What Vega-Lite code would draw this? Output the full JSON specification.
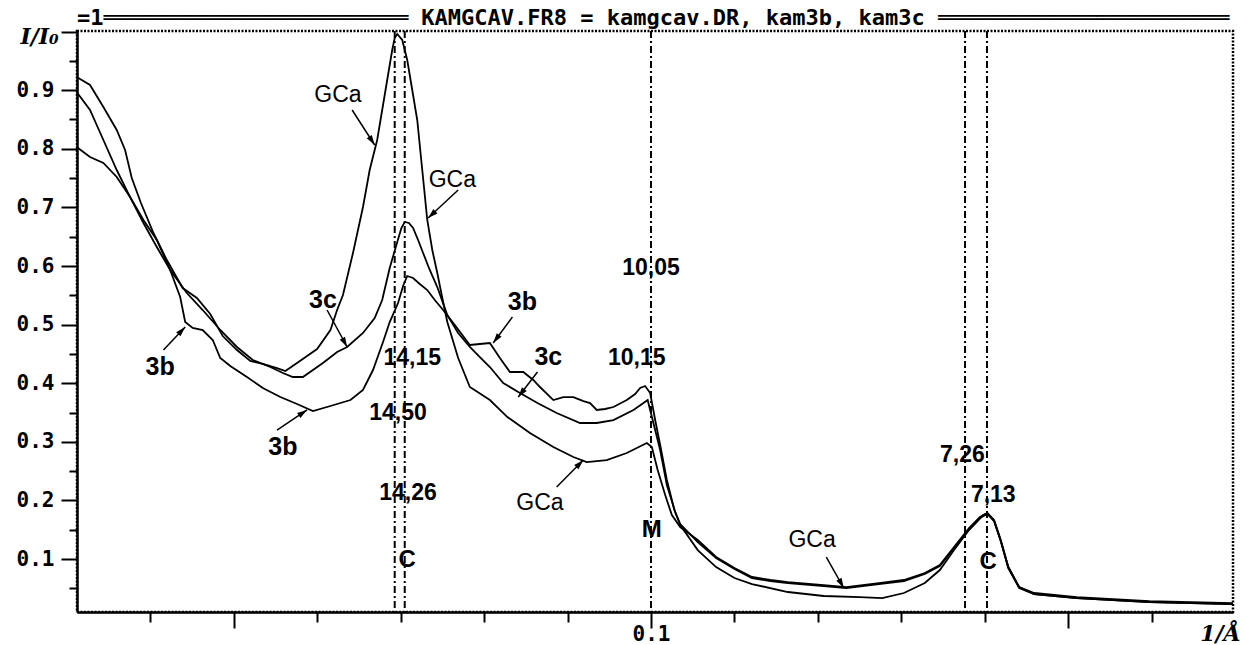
{
  "$schema": "https://vega.github.io/schema/vega-lite/v6.json",
  "width": 1156,
  "height": 581,
  "autosize": "none",
  "padding": {"left": 77, "top": 31, "right": 13, "bottom": 33},
  "background": "white",
  "title": {
    "text": "=1═══════════════════════ KAMGCAV.FR8 = kamgcav.DR, kam3b, kam3c ══════════════════════",
    "anchor": "start",
    "frame": "group",
    "font": "DejaVu Sans Mono",
    "fontSize": 22,
    "fontWeight": "bold",
    "baseline": "bottom",
    "offset": 6,
    "dy": 37,
    "color": "black"
  },
  "resolve": {"scale": {"y": "shared"}, "axis": {"y": "independent"}},
  "config": {
    "view": {"stroke": "black", "strokeWidth": 2.5, "strokeDash": [2, 1.5]},
    "axis": {
      "domainColor": "black",
      "domainWidth": 2.5,
      "tickColor": "black",
      "tickWidth": 2,
      "labelColor": "black",
      "titleColor": "black",
      "grid": false,
      "labelOverlap": false,
      "labelFlush": false,
      "labelFont": "DejaVu Sans Mono",
      "labelFontWeight": "bold",
      "labelFontSize": 21,
      "titleFont": "DejaVu Serif",
      "titleFontStyle": "italic",
      "titleFontWeight": "bold",
      "titleFontSize": 22
    }
  },
  "datasets": {
    "refs": [
      {"d": "14,50", "x": 0.0693},
      {"d": "14,15", "x": 0.0705},
      {"d": "10,0", "x": 0.1},
      {"d": "7,26", "x": 0.13762},
      {"d": "7,13", "x": 0.14025}
    ],
    "curves": [
      {"s":"GCa","x":0.0312,"y":0.9225},{"s":"GCa","x":0.0328,"y":0.9089},{"s":"GCa","x":0.0344,"y":0.8713},{"s":"GCa","x":0.0360,"y":0.8321},{"s":"GCa","x":0.0370,"y":0.7979},{"s":"GCa","x":0.0378,"y":0.7502},{"s":"GCa","x":0.0389,"y":0.7075},{"s":"GCa","x":0.0404,"y":0.6563},{"s":"GCa","x":0.0420,"y":0.6102},{"s":"GCa","x":0.0439,"y":0.5624},{"s":"GCa","x":0.0456,"y":0.5454},{"s":"GCa","x":0.0472,"y":0.5181},{"s":"GCa","x":0.0487,"y":0.4805},{"s":"GCa","x":0.0504,"y":0.4566},{"s":"GCa","x":0.0520,"y":0.4379},{"s":"GCa","x":0.0535,"y":0.4328},{"s":"GCa","x":0.0552,"y":0.4259},{"s":"GCa","x":0.0562,"y":0.4208},{"s":"GCa","x":0.0576,"y":0.4345},{"s":"GCa","x":0.0600,"y":0.4584},{"s":"GCa","x":0.0616,"y":0.4908},{"s":"GCa","x":0.0624,"y":0.5249},{"s":"GCa","x":0.0631,"y":0.5505},{"s":"GCa","x":0.0643,"y":0.6222},{"s":"GCa","x":0.0655,"y":0.7007},{"s":"GCa","x":0.0663,"y":0.7638},{"s":"GCa","x":0.0672,"y":0.8150},{"s":"GCa","x":0.0679,"y":0.8747},{"s":"GCa","x":0.0685,"y":0.9259},{"s":"GCa","x":0.0690,"y":0.9686},{"s":"GCa","x":0.0693,"y":0.9891},{"s":"GCa","x":0.0696,"y":0.9959},{"s":"GCa","x":0.0702,"y":0.9857},{"s":"GCa","x":0.0708,"y":0.9515},{"s":"GCa","x":0.0714,"y":0.9003},{"s":"GCa","x":0.0720,"y":0.8491},{"s":"GCa","x":0.0726,"y":0.7638},{"s":"GCa","x":0.0732,"y":0.6785},{"s":"GCa","x":0.0738,"y":0.6273},{"s":"GCa","x":0.0744,"y":0.5880},{"s":"GCa","x":0.0750,"y":0.5454},{"s":"GCa","x":0.0756,"y":0.5044},{"s":"GCa","x":0.0769,"y":0.4430},{"s":"GCa","x":0.0783,"y":0.3935},{"s":"GCa","x":0.0807,"y":0.3713},{"s":"GCa","x":0.0828,"y":0.3423},{"s":"GCa","x":0.0855,"y":0.3150},{"s":"GCa","x":0.0883,"y":0.2911},{"s":"GCa","x":0.0907,"y":0.2741},{"s":"GCa","x":0.0923,"y":0.2655},{"s":"GCa","x":0.0947,"y":0.2689},{"s":"GCa","x":0.0971,"y":0.2809},{"s":"GCa","x":0.0995,"y":0.2979},{"s":"GCa","x":0.1001,"y":0.2911},{"s":"GCa","x":0.1008,"y":0.2519},{"s":"GCa","x":0.1017,"y":0.2092},{"s":"GCa","x":0.1025,"y":0.1751},{"s":"GCa","x":0.1035,"y":0.1546},{"s":"GCa","x":0.1056,"y":0.1324},{"s":"GCa","x":0.1078,"y":0.1034},{"s":"GCa","x":0.1100,"y":0.0846},{"s":"GCa","x":0.1121,"y":0.0693},{"s":"GCa","x":0.1143,"y":0.0642},{"s":"GCa","x":0.1164,"y":0.0607},{"s":"GCa","x":0.1207,"y":0.0556},{"s":"GCa","x":0.1234,"y":0.0522},{"s":"GCa","x":0.1273,"y":0.0590},{"s":"GCa","x":0.1303,"y":0.0642},{"s":"GCa","x":0.1328,"y":0.0761},{"s":"GCa","x":0.1346,"y":0.0898},{"s":"GCa","x":0.1363,"y":0.1205},{"s":"GCa","x":0.1381,"y":0.1529},{"s":"GCa","x":0.1394,"y":0.1717},{"s":"GCa","x":0.1403,"y":0.1785},{"s":"GCa","x":0.1411,"y":0.1665},{"s":"GCa","x":0.1419,"y":0.1324},{"s":"GCa","x":0.1428,"y":0.0863},{"s":"GCa","x":0.1441,"y":0.0522},{"s":"GCa","x":0.1459,"y":0.0420},{"s":"GCa","x":0.1510,"y":0.0351},{"s":"GCa","x":0.1597,"y":0.0283},{"s":"GCa","x":0.1697,"y":0.0249},
      {"s":"3b","x":0.0312,"y":0.8031},{"s":"3b","x":0.0328,"y":0.7860},{"s":"3b","x":0.0344,"y":0.7758},{"s":"3b","x":0.0360,"y":0.7519},{"s":"3b","x":0.0376,"y":0.7177},{"s":"3b","x":0.0392,"y":0.6785},{"s":"3b","x":0.0408,"y":0.6444},{"s":"3b","x":0.0424,"y":0.5932},{"s":"3b","x":0.0436,"y":0.5471},{"s":"3b","x":0.0442,"y":0.5044},{"s":"3b","x":0.0451,"y":0.4942},{"s":"3b","x":0.0463,"y":0.4908},{"s":"3b","x":0.0475,"y":0.4737},{"s":"3b","x":0.0484,"y":0.4430},{"s":"3b","x":0.0496,"y":0.4293},{"s":"3b","x":0.0516,"y":0.4106},{"s":"3b","x":0.0535,"y":0.3918},{"s":"3b","x":0.0556,"y":0.3764},{"s":"3b","x":0.0576,"y":0.3645},{"s":"3b","x":0.0595,"y":0.3525},{"s":"3b","x":0.0616,"y":0.3611},{"s":"3b","x":0.0640,"y":0.3713},{"s":"3b","x":0.0655,"y":0.3884},{"s":"3b","x":0.0667,"y":0.4225},{"s":"3b","x":0.0679,"y":0.4703},{"s":"3b","x":0.0687,"y":0.5044},{"s":"3b","x":0.0697,"y":0.5368},{"s":"3b","x":0.0703,"y":0.5659},{"s":"3b","x":0.0708,"y":0.5829},{"s":"3b","x":0.0715,"y":0.5795},{"s":"3b","x":0.0723,"y":0.5693},{"s":"3b","x":0.0732,"y":0.5590},{"s":"3b","x":0.0741,"y":0.5420},{"s":"3b","x":0.0751,"y":0.5249},{"s":"3b","x":0.0765,"y":0.4993},{"s":"3b","x":0.0783,"y":0.4652},{"s":"3b","x":0.0795,"y":0.4669},{"s":"3b","x":0.0807,"y":0.4686},{"s":"3b","x":0.0819,"y":0.4430},{"s":"3b","x":0.0831,"y":0.4191},{"s":"3b","x":0.0847,"y":0.4191},{"s":"3b","x":0.0859,"y":0.4055},{"s":"3b","x":0.0867,"y":0.3935},{"s":"3b","x":0.0883,"y":0.3713},{"s":"3b","x":0.0895,"y":0.3764},{"s":"3b","x":0.0907,"y":0.3764},{"s":"3b","x":0.0919,"y":0.3696},{"s":"3b","x":0.0927,"y":0.3662},{"s":"3b","x":0.0935,"y":0.3543},{"s":"3b","x":0.0945,"y":0.3560},{"s":"3b","x":0.0955,"y":0.3594},{"s":"3b","x":0.0971,"y":0.3713},{"s":"3b","x":0.0981,"y":0.3816},{"s":"3b","x":0.0987,"y":0.3918},{"s":"3b","x":0.0993,"y":0.3952},{"s":"3b","x":0.0999,"y":0.3833},{"s":"3b","x":0.1005,"y":0.3372},{"s":"3b","x":0.1011,"y":0.2945},{"s":"3b","x":0.1019,"y":0.2348},{"s":"3b","x":0.1028,"y":0.1836},{"s":"3b","x":0.1035,"y":0.1580},{"s":"3b","x":0.1056,"y":0.1153},{"s":"3b","x":0.1078,"y":0.0863},{"s":"3b","x":0.1100,"y":0.0676},{"s":"3b","x":0.1121,"y":0.0573},{"s":"3b","x":0.1164,"y":0.0437},{"s":"3b","x":0.1207,"y":0.0369},{"s":"3b","x":0.1250,"y":0.0351},{"s":"3b","x":0.1277,"y":0.0334},{"s":"3b","x":0.1303,"y":0.0420},{"s":"3b","x":0.1328,"y":0.0590},{"s":"3b","x":0.1346,"y":0.0812},{"s":"3b","x":0.1363,"y":0.1153},{"s":"3b","x":0.1381,"y":0.1495},{"s":"3b","x":0.1398,"y":0.1751},{"s":"3b","x":0.1403,"y":0.1785},{"s":"3b","x":0.1411,"y":0.1648},{"s":"3b","x":0.1419,"y":0.1307},{"s":"3b","x":0.1428,"y":0.0846},{"s":"3b","x":0.1441,"y":0.0505},{"s":"3b","x":0.1459,"y":0.0403},{"s":"3b","x":0.1510,"y":0.0334},{"s":"3b","x":0.1597,"y":0.0266},{"s":"3b","x":0.1697,"y":0.0232},
      {"s":"3c","x":0.0312,"y":0.8969},{"s":"3c","x":0.0328,"y":0.8662},{"s":"3c","x":0.0344,"y":0.8150},{"s":"3c","x":0.0360,"y":0.7638},{"s":"3c","x":0.0376,"y":0.7177},{"s":"3c","x":0.0392,"y":0.6734},{"s":"3c","x":0.0408,"y":0.6324},{"s":"3c","x":0.0424,"y":0.5932},{"s":"3c","x":0.0444,"y":0.5539},{"s":"3c","x":0.0463,"y":0.5249},{"s":"3c","x":0.0484,"y":0.4908},{"s":"3c","x":0.0504,"y":0.4618},{"s":"3c","x":0.0523,"y":0.4396},{"s":"3c","x":0.0544,"y":0.4276},{"s":"3c","x":0.0559,"y":0.4174},{"s":"3c","x":0.0571,"y":0.4106},{"s":"3c","x":0.0583,"y":0.4106},{"s":"3c","x":0.0607,"y":0.4345},{"s":"3c","x":0.0624,"y":0.4532},{"s":"3c","x":0.0636,"y":0.4618},{"s":"3c","x":0.0655,"y":0.4857},{"s":"3c","x":0.0669,"y":0.5113},{"s":"3c","x":0.0678,"y":0.5420},{"s":"3c","x":0.0687,"y":0.5966},{"s":"3c","x":0.0695,"y":0.6358},{"s":"3c","x":0.0701,"y":0.6648},{"s":"3c","x":0.0705,"y":0.6751},{"s":"3c","x":0.0710,"y":0.6734},{"s":"3c","x":0.0715,"y":0.6648},{"s":"3c","x":0.0721,"y":0.6444},{"s":"3c","x":0.0727,"y":0.6222},{"s":"3c","x":0.0735,"y":0.5932},{"s":"3c","x":0.0744,"y":0.5641},{"s":"3c","x":0.0756,"y":0.5164},{"s":"3c","x":0.0769,"y":0.4857},{"s":"3c","x":0.0783,"y":0.4618},{"s":"3c","x":0.0795,"y":0.4447},{"s":"3c","x":0.0807,"y":0.4276},{"s":"3c","x":0.0823,"y":0.4003},{"s":"3c","x":0.0843,"y":0.3833},{"s":"3c","x":0.0864,"y":0.3662},{"s":"3c","x":0.0887,"y":0.3491},{"s":"3c","x":0.0915,"y":0.3321},{"s":"3c","x":0.0935,"y":0.3321},{"s":"3c","x":0.0955,"y":0.3372},{"s":"3c","x":0.0979,"y":0.3543},{"s":"3c","x":0.0991,"y":0.3662},{"s":"3c","x":0.0996,"y":0.3713},{"s":"3c","x":0.1002,"y":0.3372},{"s":"3c","x":0.1011,"y":0.2860},{"s":"3c","x":0.1019,"y":0.2263},{"s":"3c","x":0.1029,"y":0.1802},{"s":"3c","x":0.1035,"y":0.1597},{"s":"3c","x":0.1056,"y":0.1290},{"s":"3c","x":0.1078,"y":0.1017},{"s":"3c","x":0.1100,"y":0.0829},{"s":"3c","x":0.1121,"y":0.0676},{"s":"3c","x":0.1143,"y":0.0624},{"s":"3c","x":0.1164,"y":0.0590},{"s":"3c","x":0.1207,"y":0.0539},{"s":"3c","x":0.1234,"y":0.0505},{"s":"3c","x":0.1273,"y":0.0573},{"s":"3c","x":0.1303,"y":0.0624},{"s":"3c","x":0.1328,"y":0.0744},{"s":"3c","x":0.1346,"y":0.0880},{"s":"3c","x":0.1363,"y":0.1188},{"s":"3c","x":0.1381,"y":0.1512},{"s":"3c","x":0.1394,"y":0.1700},{"s":"3c","x":0.1403,"y":0.1768},{"s":"3c","x":0.1411,"y":0.1648},{"s":"3c","x":0.1419,"y":0.1307},{"s":"3c","x":0.1428,"y":0.0863},{"s":"3c","x":0.1441,"y":0.0522},{"s":"3c","x":0.1459,"y":0.0403},{"s":"3c","x":0.1510,"y":0.0334},{"s":"3c","x":0.1597,"y":0.0266},{"s":"3c","x":0.1697,"y":0.0232}
    ],
    "arrows": [
      {"s":"GCa","xt":0.0642,"yt":0.8662,"x":0.0669,"y":0.8065},
      {"s":"GCa","xt":0.0769,"yt":0.7297,"x":0.0733,"y":0.6819},
      {"s":"3c","xt":0.0612,"yt":0.5249,"x":0.0636,"y":0.4618},
      {"s":"3b","xt":0.0416,"yt":0.4566,"x":0.0442,"y":0.4959},
      {"s":"3b","xt":0.0552,"yt":0.3201,"x":0.0588,"y":0.3543},
      {"s":"3b","xt":0.0834,"yt":0.5130,"x":0.0811,"y":0.4686},
      {"s":"3c","xt":0.0864,"yt":0.4191,"x":0.0841,"y":0.3764},
      {"s":"GCa","xt":0.0887,"yt":0.2229,"x":0.0919,"y":0.2689},
      {"s":"GCa","xt":0.1210,"yt":0.1034,"x":0.1231,"y":0.0505}
    ],
    "labels": [
      {"kind":"sample","t":"GCa","x":0.0625,"y":0.8918},
      {"kind":"sample","t":"GCa","x":0.0762,"y":0.7468},
      {"kind":"sample","t":"GCa","x":0.0867,"y":0.1956},
      {"kind":"sample","t":"GCa","x":0.1193,"y":0.1324},
      {"kind":"sample","t":"3c","x":0.0607,"y":0.5420},
      {"kind":"sample","t":"3b","x":0.0412,"y":0.4276},
      {"kind":"sample","t":"3b","x":0.0559,"y":0.2911},
      {"kind":"sample","t":"3b","x":0.0846,"y":0.5386},
      {"kind":"sample","t":"3c","x":0.0877,"y":0.4447},
      {"kind":"peak","t":"14,15","x":0.0714,"y":0.4430},
      {"kind":"peak","t":"14,50","x":0.0697,"y":0.3491},
      {"kind":"peak","t":"14,26","x":0.0709,"y":0.2126},
      {"kind":"phase","t":"C","x":0.0708,"y":0.0983},
      {"kind":"peak","t":"10,05","x":0.1,"y":0.5966},
      {"kind":"peak","t":"10,15","x":0.0983,"y":0.4430},
      {"kind":"phase","t":"M","x":0.1001,"y":0.1495},
      {"kind":"peak","t":"7,26","x":0.1373,"y":0.2775},
      {"kind":"peak","t":"7,13","x":0.1410,"y":0.2092},
      {"kind":"phase","t":"C","x":0.1404,"y":0.0949}
    ]
  },
  "layer": [
    {
      "data": {"name": "curves"},
      "mark": {"type": "line", "color": "black", "strokeWidth": 1.8, "interpolate": "linear"},
      "encoding": {
        "x": {
          "field": "x", "type": "quantitative",
          "scale": {"domain": [0.03124, 0.16972], "nice": false, "zero": false},
          "axis": {
            "values": [0.04, 0.05, 0.06, 0.07, 0.08, 0.09, 0.1, 0.11, 0.12, 0.13, 0.14, 0.15, 0.16],
            "labelExpr": "abs(datum.value - 0.1) < 0.001 ? '0.1' : ''",
            "tickSize": {"condition": {"test": "abs(datum.value*20 - round(datum.value*20)) < 0.01", "value": 16}, "value": 10},
            "labelPadding": -5,
            "title": "1/Å",
            "titleX": 1143,
            "titleY": 28,
            "titleAlign": "center",
            "titleBaseline": "alphabetic"
          }
        },
        "y": {
          "field": "y", "type": "quantitative",
          "scale": {"domain": [0.0096, 1.001], "nice": false, "zero": false},
          "axis": {
            "orient": "left",
            "values": [0.1, 0.2, 0.3, 0.4, 0.5, 0.6, 0.7, 0.8, 0.9, 1.0],
            "format": ".1f",
            "labelExpr": "datum.value > 0.95 ? '' : datum.label",
            "tickSize": 16,
            "labelPadding": 7,
            "title": "I/I₀",
            "titleAngle": 0,
            "titleX": -38,
            "titleY": 12,
            "titleAlign": "center",
            "titleBaseline": "alphabetic"
          }
        },
        "detail": {"field": "s", "type": "nominal"}
      }
    },
    {
      "data": {"name": "refs"},
      "mark": {"type": "rule", "color": "black", "strokeWidth": 2, "strokeDash": [7, 3, 2, 3]},
      "encoding": {
        "x": {"field": "x", "type": "quantitative"}
      }
    },
    {
      "data": {"name": "arrows"},
      "mark": {"type": "rule", "color": "black", "strokeWidth": 1.5},
      "encoding": {
        "x": {"field": "xt", "type": "quantitative"},
        "y": {
          "field": "yt", "type": "quantitative",
          "axis": {
            "orient": "left",
            "values": [0.05, 0.15, 0.25, 0.35, 0.45, 0.55, 0.65, 0.75, 0.85, 0.95],
            "tickSize": 8,
            "labels": false,
            "domain": false,
            "title": null
          }
        },
        "x2": {"field": "x"},
        "y2": {"field": "y"}
      }
    },
    {
      "data": {"name": "arrows"},
      "mark": {
        "type": "point", "filled": true, "color": "black", "opacity": 1, "size": 100,
        "shape": "M0,0L-0.6,2L0.6,2Z",
        "angle": {"expr": "atan2(scale('x', datum.x) - scale('x', datum.xt), scale('y', datum.yt) - scale('y', datum.y)) * 180 / PI"}
      },
      "encoding": {
        "x": {"field": "x", "type": "quantitative"},
        "y": {"field": "y", "type": "quantitative", "axis": null}
      }
    },
    {
      "data": {"name": "labels"},
      "transform": [{"filter": "datum.t == 'GCa'"}],
      "mark": {"type": "text", "font": "Liberation Sans", "fontSize": 23, "fontWeight": "normal", "color": "black", "align": "center", "baseline": "middle"},
      "encoding": {
        "x": {"field": "x", "type": "quantitative"},
        "y": {"field": "y", "type": "quantitative", "axis": null},
        "text": {"field": "t"}
      }
    },
    {
      "data": {"name": "labels"},
      "transform": [{"filter": "datum.kind == 'sample' && datum.t != 'GCa'"}],
      "mark": {"type": "text", "font": "Liberation Sans Narrow, Liberation Sans", "fontSize": 25, "fontWeight": "bold", "color": "black", "align": "center", "baseline": "middle"},
      "encoding": {
        "x": {"field": "x", "type": "quantitative"},
        "y": {"field": "y", "type": "quantitative", "axis": null},
        "text": {"field": "t"}
      }
    },
    {
      "data": {"name": "labels"},
      "transform": [{"filter": "datum.kind == 'peak'"}],
      "mark": {"type": "text", "font": "Liberation Sans", "fontSize": 23, "fontWeight": "bold", "color": "black", "align": "center", "baseline": "middle"},
      "encoding": {
        "x": {"field": "x", "type": "quantitative"},
        "y": {"field": "y", "type": "quantitative", "axis": null},
        "text": {"field": "t"}
      }
    },
    {
      "data": {"name": "labels"},
      "transform": [{"filter": "datum.kind == 'phase'"}],
      "mark": {"type": "text", "font": "Liberation Sans", "fontSize": 24, "fontWeight": "bold", "color": "black", "align": "center", "baseline": "middle"},
      "encoding": {
        "x": {"field": "x", "type": "quantitative"},
        "y": {"field": "y", "type": "quantitative", "axis": null},
        "text": {"field": "t"}
      }
    }
  ]
}
